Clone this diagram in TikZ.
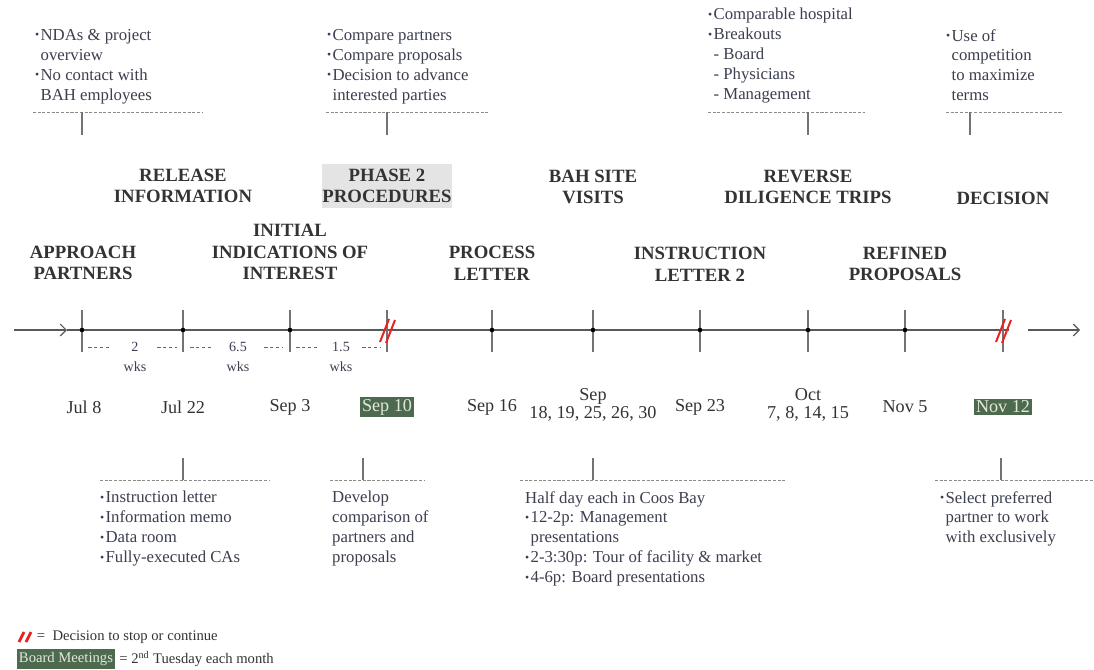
\documentclass[tikz,border=0pt]{standalone}
\usepackage{fontspec}
\setmainfont{Liberation Serif}
\usetikzlibrary{arrows.meta}

\definecolor{inkgray}{HTML}{333333}
\definecolor{notegray}{HTML}{3C3F4F}
\definecolor{boardgreen}{HTML}{4E6A4E}
\definecolor{boardtext}{HTML}{E2E8DC}
\definecolor{phasegray}{HTML}{E4E4E4}
\definecolor{hashred}{HTML}{E8231E}

\newcommand{\bul}{\makebox[4.6pt][l]{\raisebox{0.2ex}{\fontsize{10}{10}\selectfont •}}}

\tikzstyle{note} = [align=left, inner sep=0pt, text=notegray, font=\fontsize{14.3}{17}\selectfont]
\tikzstyle{phase} = [align=center, inner sep=0pt, text=inkgray, font=\bfseries\fontsize{16}{18.5}\selectfont]
\tikzstyle{datetext} = [align=center, inner sep=1pt, text=inkgray, font=\fontsize{15.5}{15.5}\selectfont]
\tikzstyle{board} = [datetext, fill=boardgreen, text=boardtext, inner sep=1.8pt]
\tikzstyle{wkstext} = [align=center, inner sep=0pt, text=notegray, font=\fontsize{12}{17}\selectfont]
\tikzstyle{legendtext} = [anchor=west, inner sep=1.5pt, text=inkgray, font=\fontsize{12.5}{12.5}\selectfont]
\tikzstyle{rule} = [draw=black!45, dash pattern=on 2.6pt off 1.4pt, line width=0.7pt]
\tikzstyle{stem} = [draw=black!55, line width=1pt]
\tikzstyle{axis} = [draw=black!65, line width=1pt]
\tikzstyle{tickline} = [draw=black!55, line width=0.9pt]
\tikzstyle{gap} = [draw=black!60, dash pattern=on 3pt off 2pt, line width=0.7pt]
\tikzstyle{hash} = [draw=hashred, line width=1.7pt]
\tikzstyle{arrow} = [axis, -{Straight Barb[length=5pt, width=10pt]}]

\begin{document}
\begin{tikzpicture}[x=0.03cm, y=-0.03cm]
\useasboundingbox [fill=white] (0,0) rectangle (1094,669);

% notes above the line
\node (nda) [note, anchor=north west] at (35,29) {\bul NDAs \& project\\ \hphantom{\bul}overview\\ \bul No contact with\\ \hphantom{\bul}BAH employees};
\node (compare) [note, anchor=north west] at (327,29) {\bul Compare partners\\ \bul Compare proposals\\ \bul Decision to advance\\ \hphantom{\bul}interested parties};
\node (hospital) [note, anchor=north west] at (708,8) {\bul Comparable hospital\\ \bul Breakouts\\ \hphantom{\bul}- Board\\ \hphantom{\bul}- Physicians\\ \hphantom{\bul}- Management};
\node (competition) [note, anchor=north west] at (946,29) {\bul Use of\\ \hphantom{\bul}competition\\ \hphantom{\bul}to maximize\\ \hphantom{\bul}terms};

\draw [rule] (33,112) -- (202,112);
\draw [stem] (82,112) -- (82,135);
\draw [rule] (326,112) -- (489,112);
\draw [stem] (387,112) -- (387,135);
\draw [rule] (708,112) -- (865,112);
\draw [stem] (808,112) -- (808,135);
\draw [rule] (946,112) -- (1063,112);
\draw [stem] (970,112) -- (970,135);

% phases above the line
\node (release) [phase] at (183,186) {RELEASE\\ INFORMATION};
\node (phase2) [phase, fill=phasegray, minimum width=3.9cm, minimum height=1.32cm] at (387,186) {PHASE 2\\ PROCEDURES};
\node (visits) [phase] at (593,187) {BAH SITE\\ VISITS};
\node (reverse) [phase] at (808,187) {REVERSE\\ DILIGENCE TRIPS};
\node (decision) [phase] at (1003,198) {DECISION};

\node (approach) [phase] at (83,263) {APPROACH\\ PARTNERS};
\node (initial) [phase] at (290,252) {INITIAL\\ INDICATIONS OF\\ INTEREST};
\node (process) [phase] at (492,263) {PROCESS\\ LETTER};
\node (instruction) [phase] at (700,264) {INSTRUCTION\\ LETTER 2};
\node (refined) [phase] at (905,264) {REFINED\\ PROPOSALS};

% time line
\coordinate (axstart) at (14,330);
\coordinate (axtip) at (67,330);
\coordinate (t1) at (82,330);
\coordinate (t10) at (1003,330);
\coordinate (axresume) at (1028,330);
\coordinate (axend) at (1080,330);
\draw [arrow] (axstart) -- (axtip);
\draw [axis] (axtip) -- (t1) -- (t10) -- (1009,330);
\draw [arrow] (axresume) -- (axend);

\draw [tickline] (82,310) -- (82,352);
\draw [tickline] (183,310) -- (183,352);
\draw [tickline] (290,310) -- (290,352);
\draw [tickline] (387,310) -- (387,352);
\draw [tickline] (492,310) -- (492,352);
\draw [tickline] (593,310) -- (593,352);
\draw [tickline] (700,310) -- (700,352);
\draw [tickline] (808,310) -- (808,352);
\draw [tickline] (905,310) -- (905,352);
\draw [tickline] (1003,310) -- (1003,352);

\fill (82,330) circle (2.3);
\fill (183,330) circle (2.3);
\fill (290,330) circle (2.3);
\fill (492,330) circle (2.3);
\fill (593,330) circle (2.3);
\fill (700,330) circle (2.3);
\fill (808,330) circle (2.3);
\fill (905,330) circle (2.3);

% decision marks
\draw [hash] (380,342) -- (389,319);
\draw [hash] (386,343) -- (395,320);
\draw [hash] (996,342) -- (1005,319);
\draw [hash] (1002,343) -- (1011,320);

% weeks between steps
\draw [gap] (88,347) -- (110,347);
\draw [gap] (157,347) -- (177,347);
\node (wk1) [wkstext] at (135,357) {2\\ wks};
\draw [gap] (190,347) -- (211,347);
\draw [gap] (264,347) -- (283,347);
\node (wk2) [wkstext] at (238,357) {6.5\\ wks};
\draw [gap] (296,347) -- (318,347);
\draw [gap] (362,347) -- (381,347);
\node (wk3) [wkstext] at (341,357) {1.5\\ wks};

% dates
\node (jul8) [datetext] at (84,407) {Jul 8};
\node (jul22) [datetext] at (183,407) {Jul 22};
\node (sep3) [datetext] at (290,407) {Sep 3};
\node (sep10) [board] at (387,407) {Sep 10};
\node (sep16) [datetext] at (492,407) {Sep 16};
\node (sepvisits) [datetext] at (593,405) {Sep\\ 18, 19, 25, 26, 30};
\node (sep23) [datetext] at (700,407) {Sep 23};
\node (octtrips) [datetext] at (808,405) {Oct\\ 7, 8, 14, 15};
\node (nov5) [datetext] at (905,407) {Nov 5};
\node (nov12) [board] at (1003,407) {Nov 12};

% notes below the line
\draw [stem] (183,458) -- (183,480);
\draw [rule] (100,480) -- (270,480);
\draw [stem] (363,458) -- (363,480);
\draw [rule] (330,480) -- (425,480);
\draw [stem] (593,458) -- (593,480);
\draw [rule] (520,480) -- (786,480);
\draw [stem] (1001,458) -- (1001,480);
\draw [rule] (935,480) -- (1094,480);

\node (memo) [note, anchor=north west] at (100,491) {\bul Instruction letter\\ \bul Information memo\\ \bul Data room\\ \bul Fully-executed CAs};
\node (develop) [note, anchor=north west] at (332,491) {Develop\\ comparison of\\ partners and\\ proposals};
\node (coosbay) [note, anchor=north west] at (525,491) {Half day each in Coos Bay\\ \bul 12-2p: Management\\ \hphantom{\bul}presentations\\ \bul 2-3:30p: Tour of facility \& market\\ \bul 4-6p: Board presentations};
\node (select) [note, anchor=north west] at (940,491) {\bul Select preferred\\ \hphantom{\bul}partner to work\\ \hphantom{\bul}with exclusively};

% legend
\draw [hash, line width=2.4pt] (19,642) -- (24,632);
\draw [hash, line width=2.4pt] (26,642) -- (31,632);
\node (stoptext) [legendtext] at (35,637) {= \ Decision to stop or continue};
\node (boardkey) [legendtext, fill=boardgreen, text=boardtext, inner ysep=2.5pt] at (17,659) {Board Meetings};
\node (boardtext) [legendtext] at (boardkey.east) {\,= 2\textsuperscript{nd} Tuesday each month};

\end{tikzpicture}
\end{document}
